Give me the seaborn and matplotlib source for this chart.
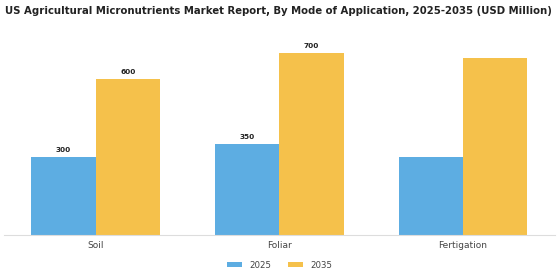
import pandas as pd
import matplotlib
matplotlib.use('Agg')
import matplotlib.pyplot as plt
import seaborn as sns

categories = ['Soil', 'Foliar', 'Fertigation']
years = ['2025', '2035']
values_2025 = [300, 350, 300]
values_2035 = [600, 700, 680]
# only first two groups carry labels in the original
labels_2025 = ['300', '350', '']
labels_2035 = ['600', '700', '']

df = pd.DataFrame({
    'Mode': categories * 2,
    'Year': ['2025'] * 3 + ['2035'] * 3,
    'Value': values_2025 + values_2035,
})

sns.set_style('white')
plt.rcParams['font.family'] = ['DejaVu Sans']

fig, ax = plt.subplots(figsize=(5.6, 2.8), dpi=100)
fig.subplots_adjust(left=0.007, right=0.991, top=0.857, bottom=0.16)

sns.barplot(data=df, x='Mode', y='Value', hue='Year', hue_order=years,
            palette=['#5DADE2', '#F5C14B'], width=0.7, saturation=1,
            linewidth=0, ax=ax)

for cont, labs in zip(ax.containers, [labels_2025, labels_2035]):
    ax.bar_label(cont, labels=labs, padding=3, fontsize=5.3, fontweight='bold',
                 color='#222222')

ax.set_ylim(0, 750)
ax.set_xlim(-0.5, 2.5)
ax.set_xlabel('')
ax.set_ylabel('')
ax.set_yticks([])
ax.tick_params(axis='x', labelsize=6.5, colors='#444444', length=2, width=0.6, pad=2)
for s in ['top', 'right', 'left']:
    ax.spines[s].set_visible(False)
ax.spines['bottom'].set_color('#dddddd')
ax.spines['bottom'].set_linewidth(0.8)

fig.suptitle('US Agricultural Micronutrients Market Report, By Mode of Application, 2025-2035 (USD Million)',
             fontsize=7.3, fontweight='bold', color='#222222', x=0.497, y=0.978)

ax.legend(loc='upper center', bbox_to_anchor=(0.5, -0.09), ncol=2, frameon=False,
          fontsize=6.2, handlelength=1.8, handleheight=0.6, columnspacing=1.9,
          handletextpad=0.8, labelcolor='#444444')

fig.savefig('out.png', dpi=100)
